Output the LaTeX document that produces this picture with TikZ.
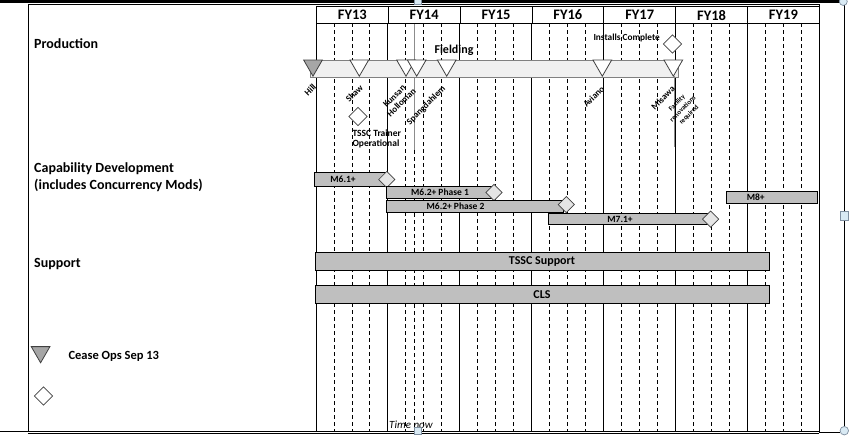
\documentclass[tikz,border=0pt]{standalone}
\usepackage{fontspec}
\setmainfont{Carlito}
\usetikzlibrary{shapes.geometric,positioning}
\definecolor{barfill}{HTML}{BFBFBF}
\definecolor{fieldfill}{HTML}{F0F0F0}
\definecolor{edgegray}{HTML}{404040}
\definecolor{handlefill}{HTML}{D9EAF4}
\definecolor{handleedge}{HTML}{7F8FA0}

\begin{document}
\begin{tikzpicture}[x=1pt,y=-1pt]
			\tikzstyle{head}=[font=\bfseries\fontsize{14}{17}\selectfont, inner sep=0pt, align=left]
			\tikzstyle{yearbox}=[draw, line width=0.8pt, minimum width=71.85pt, minimum height=17.3pt, inner sep=0pt, font=\bfseries\fontsize{14.5}{15}\selectfont]
			\tikzstyle{site}=[font=\bfseries\fontsize{9}{9}\selectfont, rotate=45, anchor=east, inner sep=0.5pt]
			\tikzstyle{tri}=[draw=edgegray, fill=white, regular polygon, regular polygon sides=3, shape border rotate=180, minimum size=21.6pt, inner sep=0pt, line width=0.8pt]
			\tikzstyle{ceased}=[tri, fill=black!35]
			\tikzstyle{mile}=[draw=edgegray, fill=white, diamond, minimum width=18.5pt, minimum height=18.5pt, inner sep=0pt, line width=0.7pt]
			\tikzstyle{barmile}=[mile, fill=black!10, minimum width=16.5pt, minimum height=16.5pt]
			\tikzstyle{bar}=[draw, fill=barfill, line width=0.8pt, inner sep=0pt, anchor=north west]
			\tikzstyle{bartext}=[font=\bfseries\fontsize{9.5}{10}\selectfont, inner sep=0pt]
			\tikzstyle{bigtext}=[font=\bfseries\fontsize{12}{13}\selectfont]
			\tikzstyle{quarter}=[dash pattern=on 4pt off 3pt, line width=0.8pt]
			\tikzstyle{yearline}=[line width=0.8pt]
			\tikzstyle{handle}=[draw=handleedge, fill=handlefill, line width=0.7pt, inner sep=0pt]

			\newcommand\Xzero{316}
			\newcommand\Wyear{71.85}
			\newcommand\Ygridtop{23.3}
			\newcommand\Ygridbot{431.3}
			\newcommand\Ytri{65.4}

			\useasboundingbox (0,0) rectangle (849,437);

			% Frame
			\draw[line width=2.5pt] (0,1.3) -- (840,1.3);
			\draw[line width=0.8pt] (28,4) rectangle (819.3,431.3);
			\draw[line width=0.8pt] (28,433.3) -- (819.3,433.3);
			\draw[line width=0.8pt] (0,431.5) -- (28,431.5);
			\draw[line width=0.8pt] (819.3,432.3) -- (840,432.3);
			\draw[line width=0.9pt] (844.3,5) -- (844.3,428);

			% Grid
			\foreach \i in {0,...,7}
				\draw[yearline] (\Xzero+\i*\Wyear,\Ygridtop) -- (\Xzero+\i*\Wyear,\Ygridbot);
			\foreach \i in {0,...,6}
				\foreach \q in {1,2,3}
					\draw[quarter] (\Xzero+\i*\Wyear+\q*\Wyear/4,\Ygridtop) -- (\Xzero+\i*\Wyear+\q*\Wyear/4,\Ygridbot);
			\draw[quarter] (414.5,150) -- (414.5,\Ygridbot);
			\draw[black!45, line width=0.8pt] (414.5,\Ygridtop) -- (414.5,150);

			% Years
			\foreach \i/\fy in {0/FY13,1/FY14,2/FY15,3/FY16,4/FY17,5/FY18,6/FY19}
				\node[yearbox, anchor=north west] (fy\i) at (\Xzero+\i*\Wyear,6) {\fy};

			% Headings
			\node[head, anchor=base west] at (34,48.7) (prod) {Production};
			\node[head, anchor=north west] at (34,162.3) (capdev) {Capability Development\\(includes Concurrency Mods)};
			\node[head, anchor=base west] at (34,267.5) (supp) {Support};

			% Production
			\node[draw=black!50, fill=fieldfill, line width=0.7pt, anchor=north west, minimum width=368.3pt, minimum height=17.3pt, inner sep=0pt] at (310,60) (fielding) {};
			\node[font=\bfseries\fontsize{12}{13}\selectfont, anchor=base west, inner sep=0pt] at (434.3,53.5) (fieldT) {Fielding};
			\draw[black!45, line width=0.8pt] (674.5,76) -- (674.5,147);

			\node[ceased] at (313,\Ytri) (hill) {};
			\node[tri] at (359.3,\Ytri) (shaw) {};
			\node[tri] at (406,\Ytri) (kunsan) {};
			\node[tri] at (416.7,\Ytri) (holloman) {};
			\node[tri] at (446.7,\Ytri) (spang) {};
			\node[tri] at (602.3,\Ytri) (aviano) {};
			\node[tri] at (673.3,\Ytri) (misawa) {};

			\node[site] at ([xshift=2pt,yshift=-8pt]hill.south) (hillT) {Hill};
			\node[site] at ([xshift=2.5pt,yshift=-9pt]shaw.south) (shawT) {Shaw};
			\node[site] at ([xshift=-1.5pt,yshift=-9pt]kunsan.south) (kunsanT) {Kunsan};
			\node[site] at ([xshift=-2pt,yshift=-12pt]holloman.south) (hollomanT) {Holloman};
			\node[site] at ([xshift=-2pt,yshift=-10pt]spang.south) (spangT) {Spangdahlem};
			\node[site] at ([xshift=1pt,yshift=-10pt]aviano.south) (avianoT) {Aviano};
			\node[site] at ([xshift=0.5pt,yshift=-10pt]misawa.south) (misawaT) {Misawa};
			\node[font=\bfseries\fontsize{6.8}{8.5}\selectfont, rotate=45, align=center, inner sep=0pt] at (683,109) (misawaN) {Facility\\renovations\\required};

			\node[mile] at (358,116.5) (trainer) {};
			\node[font=\bfseries\fontsize{9.5}{9.3}\selectfont, anchor=north west, align=left, inner sep=0pt] at (352.3,130) (trainerT) {TSSC Trainer\\Operational};
			\node[mile] at (672.5,44) (installs) {};
			\node[font=\bfseries\fontsize{9.3}{10}\selectfont, anchor=base west, inner sep=0pt] at (593.3,40.7) (installsT) {Installs Complete};

			% Capability development
			\node[bar, minimum width=72pt, minimum height=13.7pt] at (314,172.3) (m61) {};
			\node[bartext] at (343,179.2) (m61T) {M6.1+};
			\node[barmile] at (m61.east) (m61D) {};
			\node[bar, minimum width=105.7pt, minimum height=12.3pt] at (386,186) (m62a) {};
			\node[bartext] at (440,192) (m62aT) {M6.2+ Phase 1};
			\node[barmile] at ([xshift=1.5pt]m62a.east) (m62aD) {};
			\node[bar, minimum width=177.3pt, minimum height=12.3pt] at (385.7,200) (m62b) {};
			\node[bartext] at (455.5,206) (m62bT) {M6.2+ Phase 2};
			\node[barmile] at ([xshift=2.5pt,yshift=2pt]m62b.east) (m62bD) {};
			\node[bar, minimum width=160pt, minimum height=11pt] at (548.3,213.3) (m71) {};
			\node[bartext] at (620,219) (m71T) {M7.1+};
			\node[barmile] at ([xshift=1.5pt]m71.east) (m71D) {};
			\node[bar, minimum width=90.7pt, minimum height=12pt] at (726,191.3) (m8) {};
			\node[bartext] at (755.7,197.3) (m8T) {M8+};

			% Support
			\node[bar, bigtext, minimum width=454.3pt, minimum height=18pt] at (315,252.3) (tssc) {};
			\node[bigtext, inner sep=0pt] at (542,261.3) (tsscT) {TSSC Support};
			\node[bar, bigtext, minimum width=454.3pt, minimum height=18pt] at (315,285.3) (cls) {};
			\node[bigtext, inner sep=0pt] at (542,294.3) (clsT) {CLS};

			% Legend
			\node[ceased] at (40.6,352) (legtri) {};
			\node[font=\bfseries\fontsize{12.5}{13}\selectfont, anchor=base west, inner sep=0pt] at (68.3,359.3) (legtriT) {Cease Ops Sep 13};
			\node[mile] at (43.5,396) (legmile) {};
			\node[font=\itshape\fontsize{11}{12}\selectfont, anchor=base west, inner sep=0pt] at (389,428.3) (nowT) {Time now};

			% Handles
			\node[handle, circle, minimum size=8pt] at (843.3,1.5) (hTR) {};
			\node[handle, circle, minimum size=8.5pt] at (844.3,430.7) (hBR) {};
			\node[handle, minimum size=7.5pt] at (418,0.5) (hT) {};
			\node[handle, minimum size=7.5pt] at (418,431) (hB) {};
			\node[handle, minimum size=8.5pt] at (844.3,215.8) (hR) {};
		\end{tikzpicture}
\end{document}
